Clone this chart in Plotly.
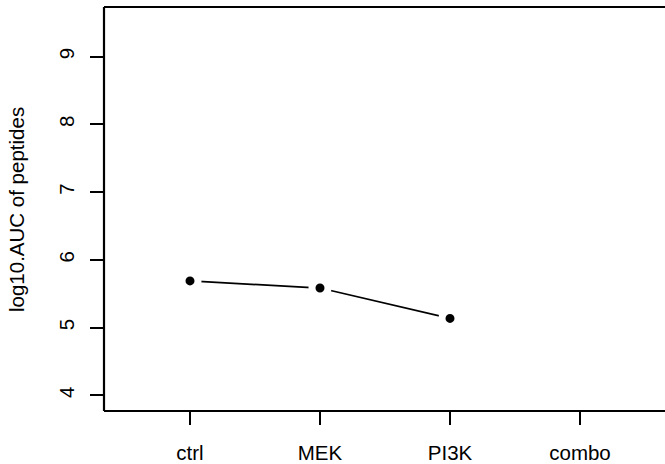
import plotly.graph_objects as go

categories = ["ctrl", "MEK", "PI3K", "combo"]
positions = [1, 2, 3, 4]
values = [5.69, 5.585, 5.137]
y_ticks = [4, 5, 6, 7, 8, 9]
y_title = "log10.AUC of peptides"

# The original R plot region extends past the right edge of the picture,
# so the figure is drawn a little wider and the page clips it to the window.
W, H = 690, 464
L, R, T, B = 104, 0, 7, 50
FONT = "Liberation Sans, Arial, Helvetica, sans-serif"
FS = 20.5
BOX = dict(color="black", width=2.2)

fig = go.Figure()
fig.add_trace(go.Scatter(
    x=positions[:len(values)], y=values,
    mode="lines+markers",
    line=dict(color="black", width=1.7),
    marker=dict(color="black", size=16, line=dict(color="white", width=7)),
    hoverinfo="skip", showlegend=False,
))

fig.update_layout(
    width=W, height=H,
    margin=dict(l=L, r=R, t=T, b=B),
    paper_bgcolor="white", plot_bgcolor="white",
    font=dict(family=FONT, size=FS, color="black"),
    xaxis=dict(
        range=[0.3385, 0.3385 + (W - L - R) / 130.0],
        tickmode="array", tickvals=positions, ticktext=categories,
        ticks="outside", ticklen=13, tickwidth=2, tickcolor="black",
        ticklabelstandoff=10,
        showline=False, showgrid=False, zeroline=False, fixedrange=True,
    ),
    yaxis=dict(
        range=[3.77, 9.733],
        tickmode="array", tickvals=y_ticks, ticktext=[str(t) for t in y_ticks],
        tickangle=-90,
        ticks="outside", ticklen=13, tickwidth=2, tickcolor="black",
        ticklabelstandoff=8,
        showline=False, showgrid=False, zeroline=False, fixedrange=True,
    ),
    shapes=[
        dict(type="line", xref="paper", yref="paper", x0=0, x1=1, y0=1, y1=1, line=BOX),
        dict(type="line", xref="paper", yref="paper", x0=0, x1=1, y0=0, y1=0, line=BOX),
        dict(type="line", xref="paper", yref="paper", x0=0, x1=0, y0=0, y1=1, line=BOX),
    ],
    annotations=[dict(
        text=y_title, xref="paper", yref="paper",
        x=(16 - L) / (W - L - R), y=0.5, textangle=-90,
        showarrow=False, xanchor="center", yanchor="middle",
        font=dict(family=FONT, size=FS, color="black"),
    )],
)

fig.write_html(
    "out.html", config={"displayModeBar": False},
    post_script=("document.body.style.margin='0';"
                 "document.body.style.overflow='hidden';"
                 "document.documentElement.style.overflow='hidden';"),
)
